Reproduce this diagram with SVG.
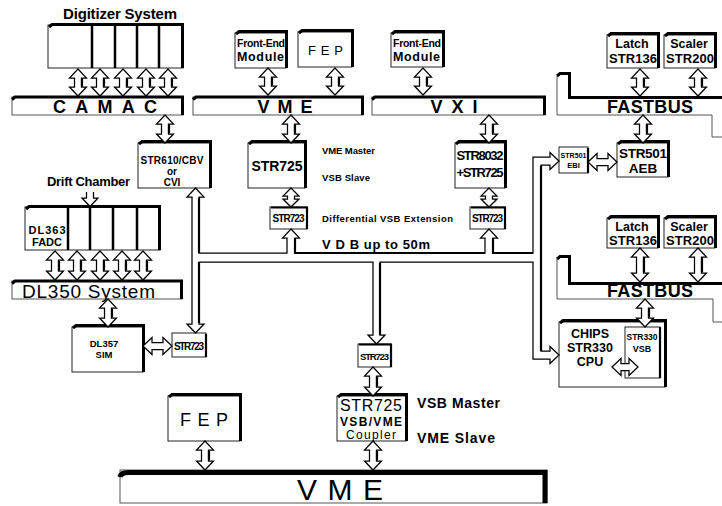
<svg xmlns="http://www.w3.org/2000/svg" xmlns:xlink="http://www.w3.org/1999/xlink" width="722" height="506" viewBox="0 0 722 506">
<style>
text{font-family:"Liberation Sans",Arial,sans-serif;font-weight:bold;fill:#000}
.m{text-anchor:middle}
.n{font-weight:normal}
.b{fill:#fff;stroke:#222;stroke-width:1}
.bar{fill:#fff;stroke:#555;stroke-width:1}
.s{fill:none;stroke:#000;stroke-width:3}
.d{fill:none;stroke:#000;stroke-width:2.5}
.g{fill:none;stroke:#555;stroke-width:1}
.a{fill:#fff;stroke:#000;stroke-width:1.25;stroke-linejoin:miter}
.t{fill:none;stroke:#000;stroke-width:2.2}
</style>
<defs>
<g id="v27"><path class="a" d="M0 0l8.5 9h-5v9h5L0 27l-8.5-9h5v-9h-5z"/><path class="t" d="M4 9.5v8"/></g>
<g id="v28"><path class="a" d="M0 0l8.5 9h-5v10h5L0 28l-8.5-9h5v-10h-5z"/><path class="t" d="M4 9.5v9"/></g>
<g id="v29"><path class="a" d="M0 0l8.5 9h-5v11h5L0 29l-8.5-9h5v-11h-5z"/><path class="t" d="M4 9.5v10"/></g>
<g id="v34"><path class="a" d="M0 0l8.5 9h-5v16h5L0 34l-8.5-9h5v-16h-5z"/><path class="t" d="M4 9.5v15"/></g>
<g id="v19"><path class="a" d="M0 0l8 8h-4.5v3h4.5L0 19l-8-8h4.5v-3h-4.5z"/></g>
<g id="h29"><path class="a" d="M0 0l9-8.5v5h11v-5l9 8.5l-9 8.5v-5h-11v5z"/></g>
<g id="h26"><path class="a" d="M0 0l9-8.5v5h8v-5l9 8.5l-9 8.5v-5h-8v5z"/></g>
</defs>

<!-- Digitizer system -->
<g id="digitizer">
<text class="m" x="120" y="19" font-size="15" textLength="114">Digitizer System</text>
<rect class="b" x="48" y="25" width="135" height="43"/>
<path class="s" d="M49 27L52 24.5H182.5V68"/>
<path class="d" d="M92 25V68M115 25V68M137 25V68M159 25V68"/>
</g>
<g id="camac">
<rect class="bar" x="12" y="97" width="171" height="18"/>
<path class="s" d="M12 99.5L15 97H182.5V115"/>
<text x="53" y="113" font-size="18" textLength="104">C A M A C</text>
</g>

<!-- VME top crate -->
<g id="fem-vme">
<rect class="b" x="235" y="33" width="51" height="35"/>
<path class="s" d="M236 34L239 31.5H286.5V68"/>
<text x="237" y="47" font-size="10.5" textLength="48">Front-End</text>
<text x="237" y="61" font-size="12.5" textLength="47">Module</text>
</g>
<g id="fep-top">
<rect class="b" x="298" y="32" width="54" height="35"/>
<path class="s" d="M299 33L302 30.5H352.5V67"/>
<text x="308" y="55" font-size="13" class="n" textLength="35">F E P</text>
</g>
<g id="vme-top">
<rect class="bar" x="193" y="97" width="170" height="18"/>
<path class="s" d="M193 99.5L196 97H362.5V115"/>
<text class="m" x="285" y="113" font-size="18" textLength="55">V M E</text>
</g>

<!-- VXI -->
<g id="fem-vxi">
<rect class="b" x="391" y="33" width="52" height="34"/>
<path class="s" d="M392 34L395 31.5H443.5V67"/>
<text x="393" y="47" font-size="10.5" textLength="48">Front-End</text>
<text x="393" y="61" font-size="12.5" textLength="47">Module</text>
</g>
<g id="vxi">
<rect class="bar" x="372" y="97" width="173" height="18"/>
<path class="s" d="M372 99.5L375 97H544.5V115"/>
<text class="m" x="454" y="113" font-size="18" textLength="47">V X I</text>
</g>

<!-- FASTBUS top -->
<g id="latch-top">
<rect class="b" x="607" y="35" width="51" height="33"/>
<path class="s" d="M608 36L611 33.5H658.5V68"/>
<text class="m" x="632" y="48" font-size="12.5">Latch</text>
<text class="m" x="633" y="63" font-size="13" textLength="48">STR136</text>
</g>
<g id="scaler-top">
<rect class="b" x="664" y="35" width="51" height="33"/>
<path class="s" d="M665 36L668 33.5H715.5V68"/>
<text class="m" x="689" y="48" font-size="12.5">Scaler</text>
<text class="m" x="690" y="63" font-size="13" textLength="48">STR200</text>
</g>
<g id="fastbus-top">
<path class="g" d="M557 76V115H712V137H722"/>
<path class="s" d="M557 76L560 73.5H569.5V97.5H722"/>
<text class="m" x="650" y="113" font-size="18" textLength="86">FASTBUS</text>
</g>
<g id="aeb">
<rect class="b" x="617" y="143" width="51" height="34"/>
<path class="s" d="M618 144L621 141.5H668.5V177"/>
<text class="m" x="643" y="158" font-size="13.5" textLength="48">STR501</text>
<text class="m" x="643" y="173" font-size="13.5">AEB</text>
</g>
<g id="ebi">
<rect class="b" x="559" y="147" width="29" height="26"/>
<path class="t" d="M588 148V173"/>
<text class="m" x="573.5" y="158" font-size="7" textLength="26">STR501</text>
<text class="m" x="573.5" y="168" font-size="7.5">EBI</text>
</g>

<!-- STR610 -->
<g id="str610">
<rect class="b" x="138" y="143" width="72" height="45"/>
<path class="s" d="M139 144L142 141.5H210.5V188"/>
<text class="m" x="172" y="164" font-size="10" textLength="63">STR610/CBV</text>
<text class="m" x="172" y="175" font-size="10">or</text>
<text class="m" x="172" y="186" font-size="10">CVI</text>
</g>

<!-- STR725 VME master -->
<g id="str725-top">
<rect class="b" x="248" y="143" width="57" height="45"/>
<path class="s" d="M249 144L252 141.5H305.5V188"/>
<text class="m" x="277" y="171" font-size="14" textLength="51">STR725</text>
<text x="322" y="154" font-size="9.5" textLength="53">VME Master</text>
<text x="322" y="181" font-size="9.5" textLength="48">VSB Slave</text>
</g>
<g id="str723-a">
<rect class="b" x="270" y="207" width="37" height="22"/>
<path class="t" d="M271 207.5H307V229"/>
<text class="m" x="288.5" y="222" font-size="10" textLength="32">STR723</text>
</g>
<text x="322" y="222" font-size="9.5" textLength="131">Differential VSB Extension</text>

<g id="str8032">
<rect class="b" x="455" y="143" width="50" height="45"/>
<path class="s" d="M456 144L459 141.5H505.5V188"/>
<text class="m" x="480" y="160" font-size="13" textLength="47">STR8032</text>
<text class="m" x="480" y="177" font-size="13" textLength="47">+STR725</text>
</g>
<g id="str723-b">
<rect class="b" x="470" y="207" width="35" height="22"/>
<path class="t" d="M471 207.5H505V229"/>
<text class="m" x="487.5" y="222" font-size="10" textLength="31">STR723</text>
</g>

<text x="322" y="249" font-size="13" textLength="108">V D B  up to 50m</text>

<!-- Drift chamber / DL350 -->
<g id="dl363">
<text x="47" y="186" font-size="13" textLength="83">Drift Chamber</text>
<rect class="b" x="25" y="207" width="135" height="43"/>
<path class="s" d="M26 209L29 206.5H159.5V250"/>
<path class="d" d="M68 207V250M90 207V250M113 207V250M137 207V250"/>
<text class="m" x="47" y="234" font-size="11" textLength="37">DL363</text>
<text class="m" x="47" y="246" font-size="11">FADC</text>
</g>
<g id="dl350">
<rect class="bar" x="12" y="281" width="170" height="18"/>
<path class="s" d="M12 283.5L15 281H181.5V299"/>
<text x="22" y="297.5" font-size="19" class="n" textLength="133">DL350 System</text>
</g>
<g id="dl357">
<rect class="b" x="72" y="327" width="71" height="45"/>
<path class="s" d="M73 328L76 325.5H143.5V372"/>
<text class="m" x="104" y="347" font-size="9.5">DL357</text>
<text class="m" x="104" y="358" font-size="9.5">SIM</text>
</g>
<g id="str723-c">
<rect class="b" x="172" y="333" width="34" height="24"/>
<path class="t" d="M206 334V357"/>
<text class="m" x="189" y="350" font-size="10" textLength="30">STR723</text>
</g>

<!-- FASTBUS lower -->
<g id="latch-low">
<rect class="b" x="607" y="218" width="51" height="30"/>
<path class="s" d="M608 219L611 216.5H658.5V248"/>
<text class="m" x="632" y="231" font-size="12.5">Latch</text>
<text class="m" x="633" y="245" font-size="13" textLength="48">STR136</text>
</g>
<g id="scaler-low">
<rect class="b" x="664" y="218" width="51" height="30"/>
<path class="s" d="M665 219L668 216.5H715.5V248"/>
<text class="m" x="689" y="231" font-size="12.5">Scaler</text>
<text class="m" x="690" y="245" font-size="13" textLength="48">STR200</text>
</g>
<g id="fastbus-low">
<path class="g" d="M557 259V299H713V322H722"/>
<path class="s" d="M557 259L560 256.5H569.5V283.5H722"/>
<text class="m" x="650" y="297" font-size="18" textLength="86">FASTBUS</text>
</g>
<g id="chips">
<rect class="b" x="559" y="322" width="106" height="65"/>
<path class="s" d="M560 323L563 320.5H665.5V387"/>
<text class="m" x="590" y="338" font-size="12.5" textLength="38">CHIPS</text>
<text class="m" x="590" y="352" font-size="12.5" textLength="46">STR330</text>
<text class="m" x="590" y="366" font-size="12.5">CPU</text>
<rect class="b" x="625" y="327" width="35" height="51"/>
<path class="t" d="M660 327V378"/>
<text class="m" x="642" y="340" font-size="8.5" textLength="31">STR330</text>
<text class="m" x="642" y="352" font-size="9">VSB</text>
</g>

<!-- bottom -->
<g id="str723-d">
<rect class="b" x="358" y="344" width="33" height="23"/>
<path class="t" d="M359 344.5H391V367"/>
<text class="m" x="374.5" y="360" font-size="9.5" textLength="29">STR723</text>
</g>
<g id="coupler">
<rect class="b" x="337" y="396" width="69" height="45"/>
<path class="s" d="M338 397L341 394.5H406.5V441"/>
<text class="m n" x="371" y="411" font-size="16" textLength="62">STR725</text>
<text class="m" x="371" y="425.5" font-size="12" textLength="62">VSB/VME</text>
<text class="m n" x="371" y="438.5" font-size="12" textLength="50">Coupler</text>
<text x="417" y="408" font-size="14" textLength="83">VSB Master</text>
<text x="417" y="443" font-size="14" textLength="78">VME Slave</text>
</g>
<g id="fep-bottom">
<rect class="b" x="168" y="396" width="72" height="45"/>
<path class="s" d="M169 397L172 394.5H240.5V441"/>
<text class="m n" x="204" y="426" font-size="18" textLength="48">F E P</text>
</g>
<g id="vme-bottom">
<rect class="bar" x="120" y="470" width="427" height="33"/>
<path class="s" style="stroke-width:5" d="M120 477Q121 472.5 128 472.5H545V503"/>
<text class="m n" x="340" y="500" font-size="30" textLength="86">V M E</text>
</g>

<!-- connectors -->
<g id="connectors">
<use xlink:href="#v27" x="78" y="69"/>
<use xlink:href="#v27" x="100" y="69"/>
<use xlink:href="#v27" x="123" y="69"/>
<use xlink:href="#v27" x="146" y="69"/>
<use xlink:href="#v27" x="168" y="69"/>
<use xlink:href="#v27" x="268" y="68"/>
<use xlink:href="#v27" x="335" y="68"/>
<use xlink:href="#v27" x="423" y="68"/>
<use xlink:href="#v27" x="640" y="69"/>
<use xlink:href="#v27" x="698" y="69"/>
<use xlink:href="#v28" x="165" y="115"/>
<use xlink:href="#v28" x="291" y="115"/>
<use xlink:href="#v28" x="489" y="115"/>
<use xlink:href="#v28" x="643" y="115"/>
<use xlink:href="#v19" x="291" y="188"/>
<use xlink:href="#v19" x="489" y="188"/>
<use xlink:href="#v29" x="55" y="251"/>
<use xlink:href="#v29" x="77" y="251"/>
<use xlink:href="#v29" x="100" y="251"/>
<use xlink:href="#v29" x="122" y="251"/>
<use xlink:href="#v29" x="143" y="251"/>
<use xlink:href="#v28" x="108" y="299"/>
<use xlink:href="#v34" x="640" y="248"/>
<use xlink:href="#v34" x="698" y="248"/>
<use xlink:href="#v28" x="645" y="299"/>
<use xlink:href="#v29" x="373" y="367"/>
<use xlink:href="#v29" x="205" y="441"/>
<use xlink:href="#v29" x="373" y="441"/>
<use xlink:href="#h29" x="143" y="346"/>
<use xlink:href="#h29" x="588" y="162"/>
<use xlink:href="#h26" x="612" y="367"/>
<path class="a" d="M86.5 192V198H82L90 206.5L98 198H93.5V192"/>
<!-- VDB -->
<path class="a" d="M192 197H187L195.5 188L204 197H199V253H287V238H282.5L291 229L299.5 238H295V253H485V238H480.5L489 229L497.5 238H493V253H533V157H550V152.5L559 161L550 169.5V165H541V351H550V346.5L559 355L550 363.5V359H533V262H380V335H385L376.5 344L368 335H373V262H199V324H204L195.5 333L187 324H192Z"/>
<path class="t" d="M199 198V253M199 262V323M295 238V253H485M493 238V253H533M541 166V351M380 263V335"/>
</g>
</svg>
